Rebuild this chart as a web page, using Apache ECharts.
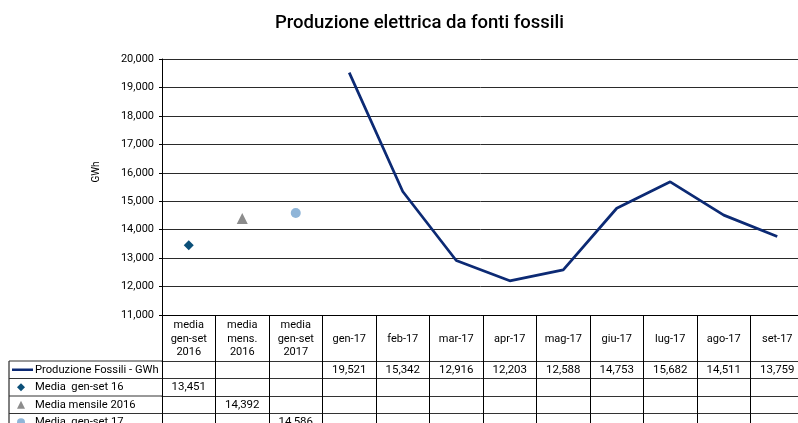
<!DOCTYPE html>
<html><head><meta charset="utf-8">
<script src="https://cdn.jsdelivr.net/npm/echarts@6/dist/echarts.min.js"></script>
<style>html,body{margin:0;padding:0;background:#fff}#c{width:798px;height:423px}</style>
</head><body><div id="c"></div>
<script>
// ---- data ----
const categories = ['media\ngen-set\n2016', 'media\nmens.\n2016', 'media\ngen-set\n2017', 'gen-17', 'feb-17', 'mar-17', 'apr-17', 'mag-17', 'giu-17', 'lug-17', 'ago-17', 'set-17'];
const seriesNames = ['Produzione Fossili - GWh', 'Media  gen-set 16', 'Media mensile 2016', 'Media  gen-set 17'];
const produzioneFossili = [null, null, null, 19521, 15342, 12916, 12203, 12588, 14753, 15682, 14511, 13759];
const mediaGenSet16 = [13451, null, null, null, null, null, null, null, null, null, null, null];
const mediaMensile2016 = [null, 14392, null, null, null, null, null, null, null, null, null, null];
const mediaGenSet17 = [null, null, 14586, null, null, null, null, null, null, null, null, null];
const yMin = 11000, yMax = 20000, yStep = 1000;
const titleText = 'Produzione elettrica da fonti fossili';
const yName = 'GWh';

// ---- helpers ----
const FONT = 'Roboto';
const fmt = v => (v == null ? '' : v.toLocaleString('en-US'));
const allSeries = [produzioneFossili, mediaGenSet16, mediaMensile2016, mediaGenSet17];
const GRID_TOP = 59, GRID_H = 256, GRID_LEFT = 162, GRID_W = 642;
const HEADER_H = 46, ROW_H = 17.5;
const pointData = arr => arr.map((v, i) => v == null ? null : [i, v]).filter(Boolean);

const xAxes = [{
  type: 'category', data: categories, gridIndex: 0, position: 'bottom',
  axisLine: { lineStyle: { color: '#000', width: 1 } },
  axisTick: { show: true, length: HEADER_H, interval: 0, lineStyle: { color: '#000' } },
  axisLabel: {
    interval: 0, margin: 4, color: '#000', fontFamily: FONT, fontSize: 11, lineHeight: 13.3,
    formatter: s => s.indexOf('\n') < 0 ? '\n' + s : s
  }
}];
allSeries.forEach((arr, k) => {
  xAxes.push({
    type: 'category', data: arr.map(fmt), gridIndex: 0, position: 'bottom',
    offset: HEADER_H + k * ROW_H,
    axisLine: { show: true, lineStyle: { color: '#333', width: 1 } },
    axisTick: { show: true, length: ROW_H, interval: 0, lineStyle: { color: '#000' } },
    axisLabel: { interval: 0, margin: 3, color: '#000', fontFamily: FONT, fontSize: 11.5 }
  });
});

const legendTop0 = GRID_TOP + GRID_H + HEADER_H;
const legends = seriesNames.map((n, k) => ({
  data: [k === 0 ? { name: n, icon: 'rect' } : n], orient: 'horizontal', left: k === 0 ? 12 : 17,
  top: legendTop0 + k * ROW_H + ROW_H / 2 - 7,
  padding: 0, itemWidth: k === 0 ? 21 : 8, itemHeight: k === 0 ? 2.5 : 8, symbolKeepAspect: true,
  textStyle: { color: '#000', fontFamily: FONT, fontSize: 11.2, lineHeight: 14, padding: [0, 0, 0, k === 0 ? -3 : 5] }
}));

const graphics = [
  { type: 'text', x: 96, y: 172, rotation: Math.PI / 2,
    style: { text: yName, fill: '#000', font: '10px ' + FONT, align: 'center', verticalAlign: 'middle' } },
  { type: 'line', shape: { x1: 9, y1: legendTop0, x2: 9, y2: 440 }, style: { stroke: '#000', lineWidth: 1 } }
];
for (let k = 0; k <= seriesNames.length; k++) {
  const y = legendTop0 + k * ROW_H;
  graphics.push({ type: 'line', shape: { x1: 9, y1: y, x2: GRID_LEFT, y2: y }, style: { stroke: '#333', lineWidth: 1 } });
}

const chart = echarts.init(document.getElementById('c'));
chart.setOption({
  animation: false,
  backgroundColor: '#fff',
  title: {
    text: titleText, left: 270, top: 9,
    textStyle: { color: '#000', fontFamily: FONT, fontSize: 18.5, fontWeight: 500 }
  },
  grid: { left: GRID_LEFT, top: GRID_TOP, width: GRID_W, height: GRID_H, containLabel: false, outerBoundsMode: 'none' },
  legend: legends,
  xAxis: xAxes,
  yAxis: {
    type: 'value', min: yMin, max: yMax, interval: yStep,
    axisLine: { show: true, lineStyle: { color: '#000' } },
    axisTick: { show: true, length: 3, lineStyle: { color: '#000' } },
    splitLine: { lineStyle: { color: '#2a2a2a', width: 1 } },
    axisLabel: { margin: 8, color: '#000', fontFamily: FONT, fontSize: 11, formatter: v => fmt(v) }
  },
  graphic: graphics,
  series: [
    { name: seriesNames[0], type: 'line', xAxisIndex: 0, data: produzioneFossili, symbol: 'none',
      lineStyle: { color: '#0c2a74', width: 2.75 }, itemStyle: { color: '#0c2a74' } },
    { name: seriesNames[1], type: 'scatter', xAxisIndex: 0, data: pointData(mediaGenSet16), symbol: 'diamond', symbolSize: 10,
      itemStyle: { color: '#0b4f78', opacity: 1 } },
    { name: seriesNames[2], type: 'scatter', xAxisIndex: 0, data: pointData(mediaMensile2016), symbol: 'triangle', symbolSize: 11,
      itemStyle: { color: '#8c8c8c', opacity: 1 } },
    { name: seriesNames[3], type: 'scatter', xAxisIndex: 0, data: pointData(mediaGenSet17), symbol: 'circle', symbolSize: 10,
      itemStyle: { color: '#8fb5d8', opacity: 1 } }
  ]
});
</script></body></html>
